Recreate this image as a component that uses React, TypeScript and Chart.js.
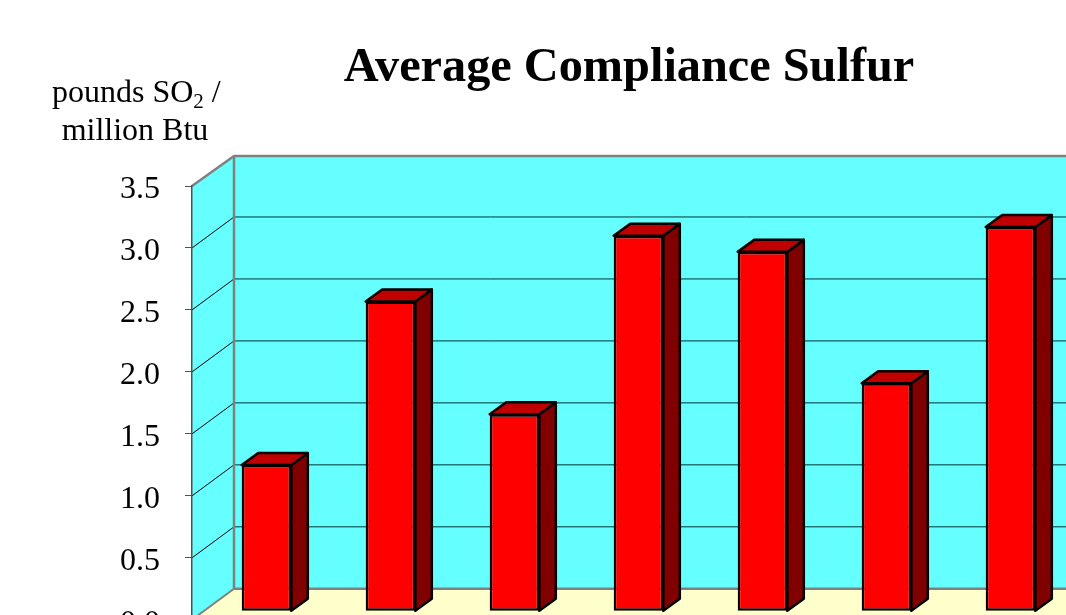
import React, { useEffect, useRef } from "react";
import { Chart, registerables } from "chart.js";

Chart.register(...registerables);

const categories = ["A", "B", "C", "D", "E", "F", "G"];
const sulfur = [1.18, 2.5, 1.59, 3.03, 2.9, 1.84, 3.1];
const chartTitle = "Average Compliance Sulfur";
const unitLine1 = ["pounds SO", "2", " /"];
const unitLine2 = "million Btu";

const SERIF = '"Liberation Serif", serif';
const WALL_DX = 42;
const WALL_DY = 31;
const BAR_DX = 12.5;
const BAR_DY = 8.5;
const BAR_DEPTH_X = 16.5;
const BAR_DEPTH_Y = 12;

const poly = (ctx: CanvasRenderingContext2D, pts: number[][], fill: string | null, stroke: string | null, lw = 1) => {
  ctx.beginPath();
  pts.forEach(([x, y], i) => (i ? ctx.lineTo(x, y) : ctx.moveTo(x, y)));
  if (fill) {
    ctx.closePath();
    ctx.fillStyle = fill;
    ctx.fill();
  }
  if (stroke) {
    ctx.strokeStyle = stroke;
    ctx.lineWidth = lw;
    ctx.lineJoin = "round";
    ctx.stroke();
  }
};

const box3d = {
  id: "box3d",
  beforeDraw(chart: any) {
    const { ctx, chartArea: a, scales } = chart;
    const y = scales.y;
    const backL = a.left + WALL_DX;
    const backR = a.right + WALL_DX + 200;
    const backT = a.top - WALL_DY + 1;
    const backB = a.bottom - WALL_DY;
    ctx.save();
    poly(ctx, [[a.left, a.top], [backL, backT], [backL, backB], [a.left, a.bottom]], "#66FFFF", null);
    poly(ctx, [[backL, backT], [backR, backT], [backR, backB], [backL, backB]], "#66FFFF", null);
    poly(ctx, [[a.left, a.bottom], [backL, backB], [backR, backB], [a.right + 200, a.bottom]], "#FFFFCC", null);
    y.ticks.forEach((t: any) => {
      if (t.value <= 0 || t.value >= 3.5) return;
      const py = y.getPixelForValue(t.value);
      poly(ctx, [[a.left, py], [backL, py - WALL_DY]], null, "#000000", 1);
      poly(ctx, [[backL, py - WALL_DY], [backR, py - WALL_DY]], null, "#003333", 1);
    });
    poly(ctx, [[a.left, a.top], [backL, backT], [backR, backT]], null, "#808080", 2.5);
    poly(ctx, [[backL, backT], [backL, backB], [backR, backB]], null, "#808080", 2.5);
    poly(ctx, [[a.left, a.bottom], [backL, backB]], null, "#808080", 2);
    ctx.restore();
  },
  beforeDatasetsDraw(chart: any) {
    const { ctx } = chart;
    ctx.save();
    ctx.translate(BAR_DX, -BAR_DY);
    chart.getDatasetMeta(0).data.forEach((b: any) => {
      const l = b.x - b.width / 2;
      const r = b.x + b.width / 2;
      const t = b.y;
      const d = b.base;
      poly(ctx, [[r, t], [r + BAR_DEPTH_X, t - BAR_DEPTH_Y], [r + BAR_DEPTH_X, d - BAR_DEPTH_Y], [r, d]], "#800000", "#000000", 2.5);
      poly(ctx, [[l, t], [l + BAR_DEPTH_X, t - BAR_DEPTH_Y], [r + BAR_DEPTH_X, t - BAR_DEPTH_Y], [r, t]], "#C00000", "#000000", 2.5);
    });
  },
  afterDatasetsDraw(chart: any) {
    chart.ctx.restore();
  },
  afterDraw(chart: any) {
    const { ctx } = chart;
    ctx.save();
    ctx.fillStyle = "#000000";
    ctx.textBaseline = "alphabetic";
    ctx.textAlign = "center";
    ctx.font = `bold 48.3px ${SERIF}`;
    ctx.fillText(chartTitle, 629, 81);
    ctx.textAlign = "left";
    ctx.font = `32px ${SERIF}`;
    let x = 52;
    ctx.fillText(unitLine1[0], x, 102);
    x += ctx.measureText(unitLine1[0]).width;
    ctx.font = `21px ${SERIF}`;
    ctx.fillText(unitLine1[1], x, 108);
    x += ctx.measureText(unitLine1[1]).width;
    ctx.font = `32px ${SERIF}`;
    ctx.fillText(unitLine1[2], x, 102);
    ctx.textAlign = "center";
    ctx.fillText(unitLine2, 135, 140);
    ctx.restore();
  },
};

export default function App() {
  const ref = useRef<HTMLCanvasElement>(null);
  useEffect(() => {
    const chart = new Chart(ref.current as HTMLCanvasElement, {
      type: "bar",
      data: {
        labels: categories,
        datasets: [
          {
            data: sulfur,
            backgroundColor: "#FF0000",
            borderColor: "#000000",
            borderWidth: 2.5,
            borderSkipped: false,
            barPercentage: 0.4,
            categoryPercentage: 1,
            clip: false as any,
          },
        ],
      },
      options: {
        responsive: false,
        animation: false,
        layout: { padding: { left: 0, right: 198, top: 186, bottom: 20 } },
        plugins: {
          legend: { display: false },
          tooltip: { enabled: false },
          title: { display: false },
        },
        scales: {
          x: { display: false },
          y: {
            min: 0,
            max: 3.5,
            afterFit: (s: any) => {
              s.width = 192;
            },
            ticks: {
              stepSize: 0.5,
              color: "#000000",
              padding: 25,
              labelOffset: 4,
              font: { family: SERIF, size: 32 },
              callback: (v: any) => Number(v).toFixed(1),
            },
            grid: { drawOnChartArea: false, drawTicks: true, tickLength: 7, color: "#505050", lineWidth: 1 },
            border: { color: "#505050", width: 1.5 },
          },
        },
      },
      plugins: [box3d],
    } as any);
    return () => chart.destroy();
  }, []);
  return (
    <div style={{ position: "fixed", left: 0, top: 0, width: 1066, height: 615, overflow: "hidden", background: "#fff" }}>
      <canvas ref={ref} width={1258} height={664} style={{ display: "block" }} />
    </div>
  );
}
